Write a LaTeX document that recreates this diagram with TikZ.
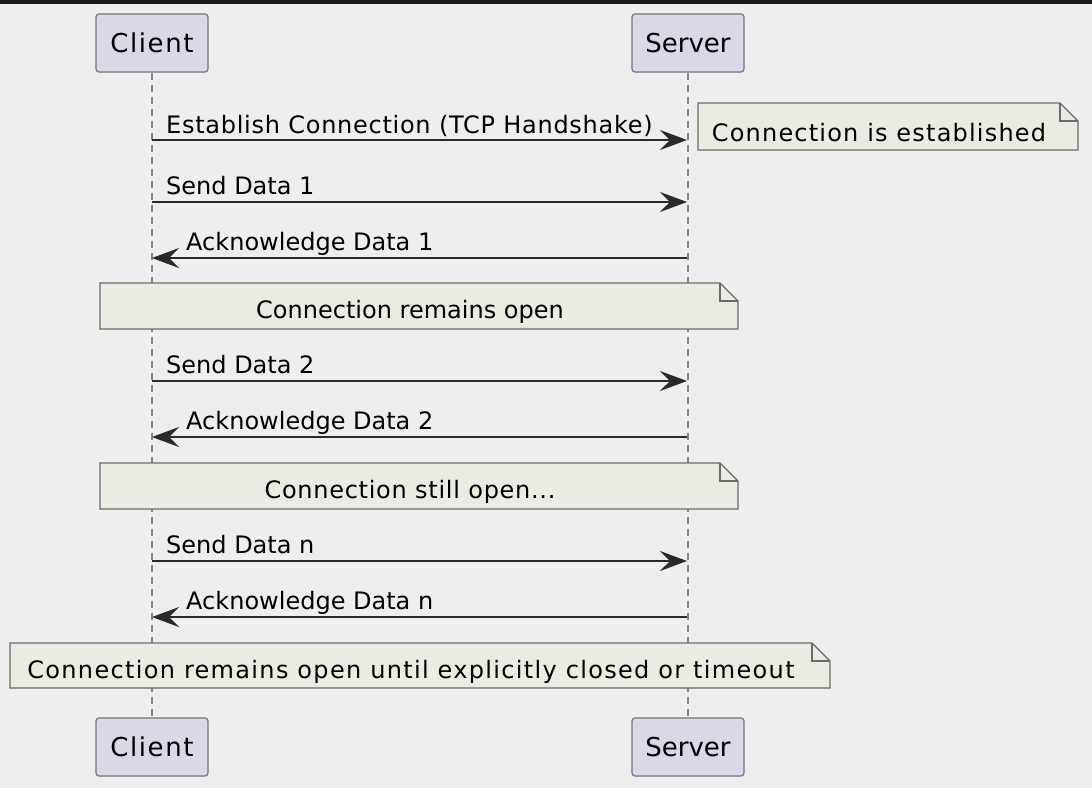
\documentclass[tikz,border=0pt]{standalone}
\usepackage{fontspec}
\setmainfont{DejaVu Sans}
\usepackage{tikz}
\usetikzlibrary{arrows.meta}

\definecolor{bgcol}{HTML}{EEEEEE}
\definecolor{partfill}{HTML}{D9D8E7}
\definecolor{partline}{HTML}{767676}
\definecolor{notefill}{HTML}{EAEBE3}
\definecolor{noteline}{HTML}{6A6A6A}
\definecolor{msgcol}{HTML}{2A2A2A}
\definecolor{lifecol}{HTML}{888888}

\tikzset{
  part/.style={draw=partline, fill=partfill, line width=1.2pt, rounded corners=3pt,
    minimum width=112pt, minimum height=58pt, inner sep=0pt, font=\fontsize{26}{30}\selectfont},
  lifeline/.style={draw=lifecol, line width=2pt, dash pattern=on 7pt off 5pt},
  msg/.style={draw=msgcol, line width=1.8pt, -{Stealth[length=27pt,width=20pt,inset=10pt]}},
  msglabel/.style={font=\fontsize{24}{28}\selectfont, anchor=base west, inner sep=0pt},
  notetext/.style={font=\fontsize{24}{28}\selectfont, inner sep=0pt}
}

% note with folded corner, between two corners
\newcommand{\notebox}[7][0]{%
  \fill[notefill] (#3,#4) -- (#5-18,#4) -- (#5,#4+18) -- (#5,#6) -- (#3,#6) -- cycle;
  \draw[noteline, line width=1.2pt] (#3,#4) -- (#5-18,#4) -- (#5,#4+18) -- (#5,#6) -- (#3,#6) -- cycle;
  \draw[noteline, line width=1.2pt] (#5-18,#4) -- (#5-18,#4+18) -- (#5,#4+18);
  \node[notetext, font=\fontsize{24}{28}\selectfont\addfontfeatures{LetterSpace=#1}]
    (#2) at ({(#3+#5-18)/2},{(#4+#6)/2+6}) {#7};}

\begin{document}
\begin{tikzpicture}[x=1pt, y=-1pt]
\useasboundingbox (0,0) rectangle (1092,788);
\fill[bgcol] (0,0) rectangle (1092,788);
\fill[black!90] (0,0) rectangle (1092,4);

% participants
\node[part, font=\fontsize{26}{30}\selectfont\addfontfeatures{LetterSpace=6}] (ctop) at (152,43) {Client};
\node[part] (stop) at (688,43) {Server};
\node[part, font=\fontsize{26}{30}\selectfont\addfontfeatures{LetterSpace=6}] (cbot) at (152,747) {Client};
\node[part] (sbot) at (688,747) {Server};

% lifelines
\draw[lifeline] (ctop.south) -- (cbot.north);
\draw[lifeline] (stop.south) -- (sbot.north);

% points on the lifelines
\foreach \n/\y in {1/140, 2/202, 3/258, 4/381, 5/437, 6/561, 7/617} {
  \coordinate (c\n) at (152,\y);
  \coordinate (s\n) at (687,\y);
}

% messages
\draw[msg] (c1) -- (s1);
\node[msglabel, font=\fontsize{24}{28}\selectfont\addfontfeatures{LetterSpace=3}] (m1) at (166,133) {Establish Connection (TCP Handshake)};
\draw[msg] (c2) -- (s2);
\node[msglabel] (m2) at (166,194) {Send Data 1};
\draw[msg] (s3) -- (c3);
\node[msglabel] (m3) at (186,250) {Acknowledge Data 1};
\draw[msg] (c4) -- (s4);
\node[msglabel] (m4) at (166,373) {Send Data 2};
\draw[msg] (s5) -- (c5);
\node[msglabel] (m5) at (186,429) {Acknowledge Data 2};
\draw[msg] (c6) -- (s6);
\node[msglabel] (m6) at (166,553) {Send Data n};
\draw[msg] (s7) -- (c7);
\node[msglabel] (m7) at (186,609) {Acknowledge Data n};

% notes
\notebox[5]{n1}{698}{103}{1078}{150}{Connection is established}
\notebox{n2}{100}{283}{738}{329}{Connection remains open}
\notebox[3]{n3}{100}{463}{738}{509}{Connection still open...}
\notebox[5.5]{n4}{10}{643}{830}{688}{Connection remains open until explicitly closed or timeout}
\end{tikzpicture}
\end{document}
